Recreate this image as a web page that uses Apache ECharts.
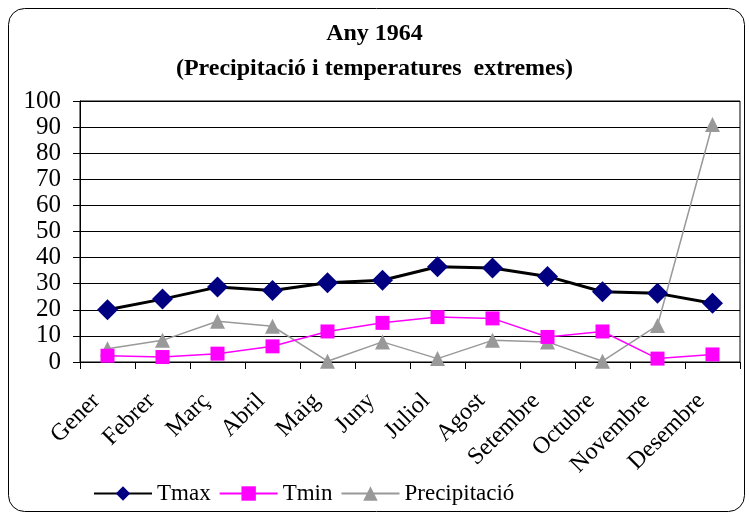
<!DOCTYPE html>
<html>
<head>
<meta charset="utf-8">
<script src="https://cdn.jsdelivr.net/npm/echarts@6/dist/echarts.min.js"></script>
<style>
  html, body { margin: 0; padding: 0; background: #fff; }
  #chart { width: 749px; height: 516px; }
</style>
</head>
<body>
<div id="chart"></div>
<script>
// months along the x axis
const months = ['Gener', 'Febrer', 'Març', 'Abril', 'Maig', 'Juny', 'Juliol', 'Agost', 'Setembre', 'Octubre', 'Novembre', 'Desembre'];

// values
const tmax = [20, 24.1, 28.7, 27.4, 30.4, 31.3, 36.5, 36, 32.8, 26.9, 26.3, 22.5];
const tmin = [2.4, 1.9, 3.2, 6, 11.7, 15, 17.2, 16.7, 9.6, 11.7, 1.3, 2.9];
const precip = [5.1, 8.3, 15.6, 13.7, 0.3, 7.7, 1.3, 8.3, 7.7, 0.3, 14, 91];

const serif = '"Liberation Serif", "Times New Roman", serif';

var chartDom = document.getElementById('chart');
var myChart = echarts.init(chartDom);

var option = {
    backgroundColor: '#fff',
    animation: false,
    textStyle: { fontFamily: serif },
    graphic: [{
        type: 'rect',
        shape: { x: 8.5, y: 8.5, width: 736, height: 503, r: 16 },
        style: { fill: 'none', stroke: '#000', lineWidth: 1 },
        silent: true
    }],
    title: {
        text: 'Any 1964',
        subtext: '(Precipitació i temperatures  extremes)',
        left: 'center',
        top: 17,
        itemGap: 11,
        textStyle: { fontFamily: serif, fontSize: 24, fontWeight: 'bold', color: '#000' },
        subtextStyle: { fontFamily: serif, fontSize: 24, fontWeight: 'bold', color: '#000' }
    },
    legend: {
        bottom: 6,
        left: 88,
        itemWidth: 58,
        itemHeight: 18,
        itemGap: 8,
        textStyle: { fontFamily: serif, fontSize: 23, color: '#000' },
        data: ['Tmax', 'Tmin', 'Precipitació']
    },
    grid: {
        left: 80,
        right: 9,
        top: 101,
        bottom: 154,
        show: true,
        borderColor: '#000',
        borderWidth: 1
    },
    xAxis: {
        type: 'category',
        data: months,
        boundaryGap: true,
        axisLine: { lineStyle: { color: '#000', width: 1 } },
        axisTick: { show: true, length: 7, inside: false, lineStyle: { color: '#000' } },
        axisLabel: {
            interval: 0,
            rotate: 45,
            margin: 24,
            padding: [0, 16, 0, 0],
            fontFamily: serif,
            fontSize: 24,
            color: '#000'
        }
    },
    yAxis: {
        type: 'value',
        min: 0,
        max: 100,
        interval: 10,
        axisLine: { show: true, lineStyle: { color: '#000', width: 1 } },
        axisTick: { show: true, length: 7, lineStyle: { color: '#000' } },
        splitLine: { show: true, lineStyle: { color: '#000', width: 1 } },
        axisLabel: { fontFamily: serif, fontSize: 25, color: '#000', margin: 19 }
    },
    series: [
        {
            name: 'Tmax',
            type: 'line',
            data: tmax,
            symbol: 'diamond',
            symbolSize: 21,
            lineStyle: { color: '#000', width: 3 },
            itemStyle: { color: '#000080', borderWidth: 0 },
            z: 3
        },
        {
            name: 'Tmin',
            type: 'line',
            data: tmin,
            symbol: 'rect',
            symbolSize: 14,
            lineStyle: { color: '#ff00ff', width: 1.5 },
            itemStyle: { color: '#ff00ff', borderWidth: 0 },
            z: 2
        },
        {
            name: 'Precipitació',
            type: 'line',
            data: precip,
            symbol: 'triangle',
            symbolSize: 15,
            lineStyle: { color: '#999999', width: 1.5 },
            itemStyle: { color: '#999999', borderWidth: 0 },
            z: 1
        }
    ]
};

myChart.setOption(option);
</script>
</body>
</html>
